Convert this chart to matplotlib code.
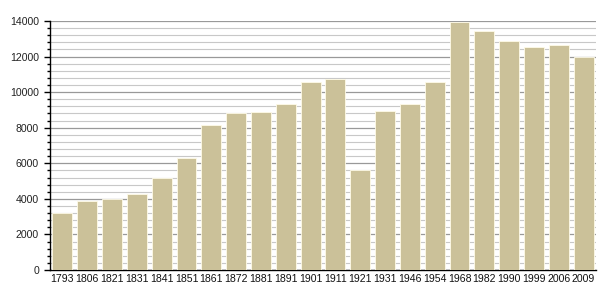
import numpy as np
import matplotlib.pyplot as plt
from matplotlib.ticker import MultipleLocator

plt.rcParams["font.family"] = ["Liberation Sans", "DejaVu Sans"]

years = ["1793", "1806", "1821", "1831", "1841", "1851", "1861", "1872", "1881", "1891", "1901",
         "1911", "1921", "1931", "1946", "1954", "1968", "1982", "1990", "1999", "2006", "2009"]
population = [3200, 3900, 4000, 4300, 5200, 6300, 8150, 8800, 8900, 9350, 10550,
              10750, 5650, 8950, 9350, 10550, 13950, 13450, 12900, 12550, 12650, 12000]

fig = plt.figure(figsize=(6.05, 3.0), dpi=100)
ax = fig.add_axes([50 / 605, 30 / 300, 546 / 605, 249 / 300])

x = np.arange(len(years))
ax.bar(x, population, width=0.8, color="#cbc199", edgecolor="#fffbe8", linewidth=0.6, zorder=3)

ax.set_ylim(0, 14000)
ax.set_xlim(-0.5, len(years) - 0.5)
ax.yaxis.set_major_locator(MultipleLocator(2000))
ax.yaxis.set_minor_locator(MultipleLocator(400))
ax.grid(axis="y", which="major", color="#999999", linewidth=0.9, zorder=1)
ax.grid(axis="y", which="minor", color="#c8c8c8", linewidth=0.8, zorder=1)

ax.set_xticks(x)
ax.set_xticklabels(years)
ax.tick_params(axis="x", length=0, labelsize=7.6, pad=3, labelcolor="#111111")
ax.tick_params(axis="y", which="major", length=4, width=1, labelsize=7.6, direction="out", pad=4,
               labelcolor="#222222")
ax.tick_params(axis="y", which="minor", length=2.5, width=1, direction="out")

for s in ["top", "right"]:
    ax.spines[s].set_visible(False)
ax.spines["left"].set_linewidth(1)
ax.spines["bottom"].set_linewidth(1)

fig.savefig("out.png", dpi=100)
